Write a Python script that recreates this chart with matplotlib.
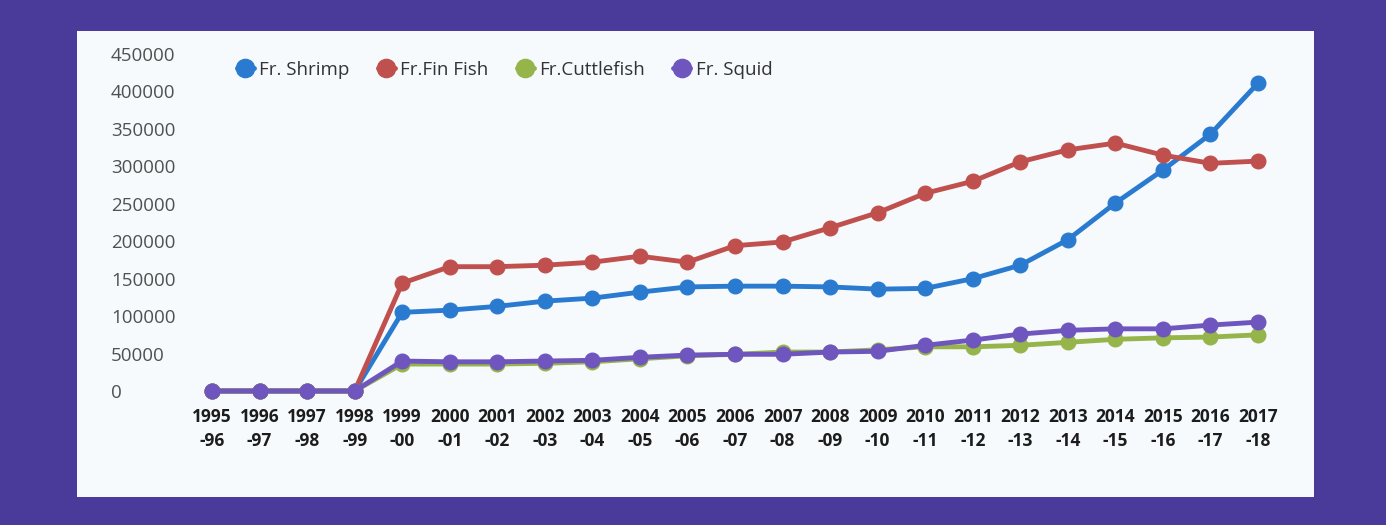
import matplotlib.pyplot as plt
from matplotlib.patches import Rectangle

years = ["1995\n-96", "1996\n-97", "1997\n-98", "1998\n-99", "1999\n-00",
         "2000\n-01", "2001\n-02", "2002\n-03", "2003\n-04", "2004\n-05",
         "2005\n-06", "2006\n-07", "2007\n-08", "2008\n-09", "2009\n-10",
         "2010\n-11", "2011\n-12", "2012\n-13", "2013\n-14", "2014\n-15",
         "2015\n-16", "2016\n-17", "2017\n-18"]

shrimp = [0, 0, 0, 0, 105000, 108000, 113000, 120000, 124000, 132000, 139000,
          140000, 140000, 139000, 136000, 137000, 150000, 168000, 202000,
          251000, 295000, 343000, 411000]
fin_fish = [0, 0, 0, 0, 144000, 166000, 166000, 168000, 172000, 180000, 172000,
            194000, 199000, 218000, 238000, 264000, 280000, 306000, 322000,
            331000, 315000, 304000, 307000]
cuttlefish = [0, 0, 0, 0, 36000, 36000, 36000, 37000, 39000, 43000, 47000,
              49000, 52000, 52000, 55000, 59000, 59000, 61000, 65000, 69000,
              71000, 72000, 75000]
squid = [0, 0, 0, 0, 40000, 39000, 39000, 40000, 41000, 45000, 48000, 49000,
         49000, 52000, 53000, 61000, 68000, 76000, 81000, 83000, 83000, 88000,
         92000]

W, H = 1386, 525
fig = plt.figure(figsize=(W / 100, H / 100), dpi=100)
fig.patch.set_facecolor("#4a3b9b")

# white chart panel inside the frame
fig.patches.append(Rectangle((77 / W, 1 - 497 / H), (1314 - 77) / W, (497 - 31) / H,
                             transform=fig.transFigure, facecolor="#f6fafd",
                             edgecolor="none", zorder=-5))

ax = fig.add_axes([212 / W, 1 - 391 / H, (1258 - 212) / W, (391 - 54) / H])
ax.set_facecolor("none")
ax.set_zorder(2)

x = list(range(len(years)))
series = [("Fr. Shrimp", shrimp, "#2a7bd0"),
          ("Fr.Fin Fish", fin_fish, "#c0504d"),
          ("Fr.Cuttlefish", cuttlefish, "#95b54a"),
          ("Fr. Squid", squid, "#6f55be")]
for name, vals, col in series:
    ax.plot(x, vals, color=col, lw=3.5, marker="o", ms=10.5, label=name,
            clip_on=False, solid_capstyle="round")

ax.set_xlim(0, 22)
ax.set_ylim(0, 450000)
ax.set_yticks(range(0, 450001, 50000))
ax.set_yticklabels([str(v) for v in range(0, 450001, 50000)],
                   fontsize=13.5, color="#505050", family="Open Sans", ha="left")
ax.set_xticks(x)
ax.set_xticklabels(years, fontsize=12.5, color="#1c1c1c", family="Open Sans",
                   fontweight="bold", linespacing=1.45)
ax.tick_params(axis="y", length=0, pad=72.7)
ax.tick_params(axis="x", length=0, pad=12)
for s in ax.spines.values():
    s.set_visible(False)

leg = ax.legend(loc="upper left", bbox_to_anchor=(220 / W, 1 - 44 / H),
                bbox_transform=fig.transFigure, ncol=4, frameon=False,
                handlelength=0.9, handletextpad=0.3, columnspacing=1.5,
                markerscale=1.25, prop={"family": "Open Sans", "size": 13.5})
for t in leg.get_texts():
    t.set_color("#333333")

fig.savefig("out.png", dpi=100, facecolor=fig.get_facecolor())
